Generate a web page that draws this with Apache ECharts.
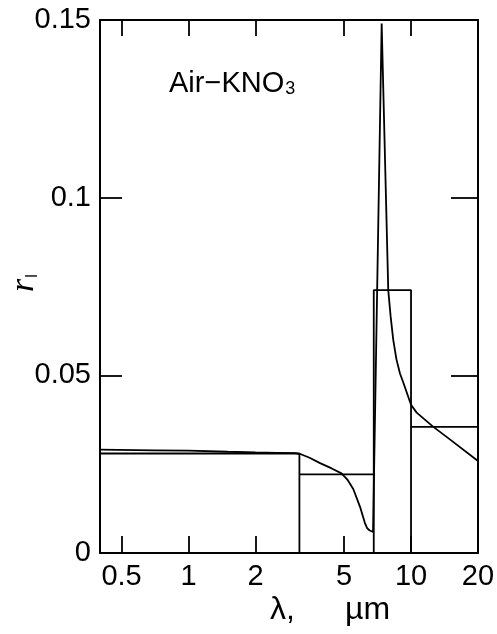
<!DOCTYPE html>
<html>
<head>
<meta charset="utf-8">
<script src="https://cdn.jsdelivr.net/npm/echarts@6/dist/echarts.min.js"></script>
<style>html,body{margin:0;padding:0;background:#fff}#c{width:497px;height:634px}</style>
</head>
<body>
<div id="c"></div>
<script>
// spectral reflectivity curve (lambda in micrometres)
const curveLambda = [0.4, 0.7, 1, 1.5, 2, 2.5, 3, 3.2, 3.5, 3.9, 4.4, 4.87, 5.2, 5.5, 5.9, 6.2, 6.35, 6.5, 6.75, 7.38, 7.9, 8.1, 8.32, 8.6, 8.92, 9.23, 10, 10.6, 11.4, 12.6, 15, 20];
const curveR = [0.0291, 0.0289, 0.0288, 0.0285, 0.0283, 0.0282, 0.0281, 0.0278, 0.0268, 0.0253, 0.0238, 0.0224, 0.0205, 0.0180, 0.0130, 0.0085, 0.0070, 0.0064, 0.0059, 0.149, 0.074, 0.0665, 0.0600, 0.0545, 0.0505, 0.0480, 0.0417, 0.0395, 0.0378, 0.0355, 0.0319, 0.0259];
// band-averaged values
const bandEdges = [0.4, 3.15, 6.8, 10, 20];
const bandValues = [0.0280, 0.0221, 0.0740, 0.0355];
// axis ticks
const xTicks = [0.5, 1, 2, 5, 10, 20];
const yTicks = [0, 0.05, 0.1, 0.15];

const curveData = curveLambda.map((x, i) => [x, curveR[i]]);
const bandData = [];
for (let i = 0; i < bandValues.length; i++) {
  bandData.push([bandEdges[i], 0]);
  bandData.push([bandEdges[i], bandValues[i]]);
  bandData.push([bandEdges[i + 1], bandValues[i]]);
  bandData.push([bandEdges[i + 1], 0]);
}

const xMin = 0.4, xMax = 20;
const lg = v => Math.log10(v);
const tickPos = xTicks.map(lg);
const FONT = 'Liberation Sans';

const chart = echarts.init(document.getElementById('c'));
chart.setOption({
  animation: false,
  backgroundColor: '#fff',
  grid: { left: 100, right: 19, top: 20, bottom: 81, containLabel: false, outerBoundsMode: 'none' },
  xAxis: [
    { type: 'log', min: xMin, max: xMax, show: false },
    {
      type: 'value', position: 'bottom', min: lg(xMin), max: lg(xMax),
      axisLine: { show: true, onZero: false, lineStyle: { color: '#000', width: 2 } },
      axisTick: { show: true, inside: true, length: 17, customValues: tickPos, lineStyle: { color: '#000', width: 1.8 } },
      axisLabel: { show: true, customValues: tickPos, margin: 9, color: '#000', fontSize: 29, fontFamily: FONT,
        formatter: v => String(parseFloat(Math.pow(10, v).toPrecision(2))) },
      splitLine: { show: false }
    },
    {
      type: 'value', position: 'top', min: lg(xMin), max: lg(xMax),
      axisLine: { show: true, onZero: false, lineStyle: { color: '#000', width: 2 } },
      axisTick: { show: true, inside: true, length: 16, customValues: tickPos.slice(0, 5), lineStyle: { color: '#000', width: 1.8 } },
      axisLabel: { show: false },
      splitLine: { show: false }
    }
  ],
  yAxis: [
    {
      type: 'value', min: 0, max: 0.15, interval: 0.05, position: 'left',
      axisLine: { show: true, onZero: false, lineStyle: { color: '#000', width: 2 } },
      axisTick: { show: true, inside: true, length: 22, lineStyle: { color: '#000', width: 1.8 } },
      axisLabel: { color: '#000', fontSize: 29, fontFamily: FONT, margin: 9,
        formatter: v => String(yTicks.find(t => Math.abs(t - v) < 1e-9) ?? v) },
      splitLine: { show: false }
    },
    {
      type: 'value', min: 0, max: 0.15, interval: 0.05, position: 'right',
      axisLine: { show: true, onZero: false, lineStyle: { color: '#000', width: 2 } },
      axisTick: { show: true, inside: true, length: 27, lineStyle: { color: '#000', width: 1.8 } },
      axisLabel: { show: false },
      splitLine: { show: false }
    }
  ],
  series: [
    {
      type: 'line', xAxisIndex: 0, yAxisIndex: 0, data: bandData, symbol: 'none',
      lineStyle: { color: '#000', width: 1.8 }, clip: true
    },
    {
      type: 'line', xAxisIndex: 0, yAxisIndex: 0, data: curveData, symbol: 'none',
      lineStyle: { color: '#000', width: 1.8 }, clip: true
    }
  ],
  graphic: [
    { type: 'text', x: 24, y: 283, rotation: Math.PI / 2, style: {
      text: '{r|r}{s|l}', align: 'center', verticalAlign: 'middle',
      rich: {
        r: { fontSize: 34, fontStyle: 'italic', fontFamily: 'Liberation Serif', fill: '#000' },
        s: { fontSize: 16, fontFamily: FONT, fill: '#000', verticalAlign: 'bottom', padding: [12, 0, 0, 1] }
      } } },
    { type: 'text', left: 169, top: 69, style: {
      text: '{a|Air\u2212KNO}{b|3}',
      rich: {
        a: { fontSize: 29, fontFamily: FONT, fill: '#000' },
        b: { fontSize: 18, fontFamily: FONT, fill: '#000', padding: [10, 0, 0, 1], verticalAlign: 'bottom' }
      } } },
    { type: 'text', left: 270, top: 594, style: {
      text: '\u03bb,', fontSize: 32, fontFamily: FONT, fill: '#000' } },
    { type: 'text', left: 345, top: 594, style: {
      text: '\u00b5m', fontSize: 32, fontFamily: FONT, fill: '#000' } }
  ]
});
</script>
</body>
</html>
